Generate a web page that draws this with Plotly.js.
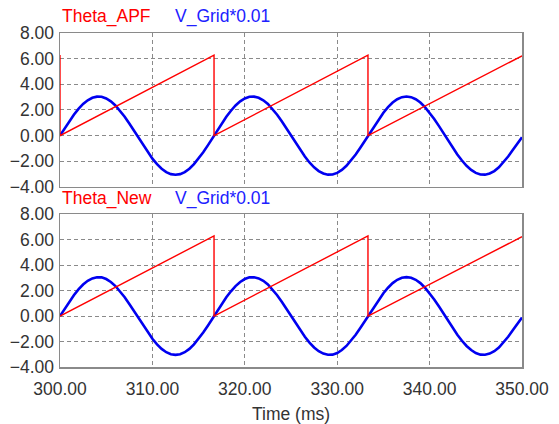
<!DOCTYPE html>
<html>
<head>
<meta charset="utf-8">
<script src="https://cdn.plot.ly/plotly-3.0.1.min.js"></script>
<style>html,body{margin:0;padding:0;background:#fff;}#chart{width:559px;height:424px;}</style>
</head>
<body>
<div id="chart"></div>
<script>
// Time axis (ms)
const tStart = 300;
const tStep = 0.5;

const vGrid = [
  0, 0.57, 1.12, 1.63, 2.09, 2.47, 2.76, 2.95, 3.04, 3.03,
  2.90, 2.67, 2.35, 1.94, 1.47, 0.94, 0.38, -0.19, -0.76, -1.30,
  -1.79, -2.22, -2.58, -2.84, -3.00, -3.05, -3.00, -2.84, -2.58, -2.22,
  -1.79, -1.30, -0.76, -0.19,
  0.38, 0.94, 1.47, 1.94, 2.35, 2.67, 2.90, 3.03, 3.04, 2.95,
  2.76, 2.47, 2.09, 1.63, 1.12, 0.57, 0, -0.57, -1.12, -1.63,
  -2.09, -2.47, -2.76, -2.95, -3.04, -3.03, -2.90, -2.67, -2.35, -1.94,
  -1.47, -0.94, -0.38,
  0.19, 0.76, 1.30, 1.79, 2.22, 2.58, 2.84, 3.00, 3.05, 3.00,
  2.84, 2.58, 2.22, 1.79, 1.30, 0.76, 0.19, -0.38, -0.94, -1.47,
  -1.94, -2.35, -2.67, -2.90, -3.03, -3.04, -2.95, -2.76, -2.47, -2.09,
  -1.63, -1.12, -0.57, -0.12
];

// Theta_APF (rad) sawtooth corner points
const thetaApfT = [300, 300, 316.67, 316.67, 333.33, 333.33, 350];
const thetaApfV = [6.28, 0, 6.28, 0, 6.28, 0, 6.22];

// Theta_New (rad) sawtooth corner points
const thetaNewT = [300, 316.67, 316.67, 333.33, 333.33, 350];
const thetaNewV = [0, 6.28, 0, 6.28, 0, 6.22];

// Labels
const xTicks = [300, 310, 320, 330, 340, 350];
const yTicks = [-4, -2, 0, 2, 4, 6, 8];
const xTitle = 'Time (ms)';
const names = ['Theta_APF', 'V_Grid*0.01', 'Theta_New', 'V_Grid*0.01'];

const RED = '#ff0000';
const BLUE = '#0000f0';
const FONT = 'Liberation Sans, Arial, sans-serif';
const FS = 17.5;

const traces = [
  {x0: tStart, dx: tStep, y: vGrid, xaxis: 'x', yaxis: 'y', mode: 'lines',
   line: {color: BLUE, width: 2.6}, name: names[1]},
  {x: thetaApfT, y: thetaApfV, xaxis: 'x', yaxis: 'y', mode: 'lines',
   line: {color: RED, width: 1.4}, name: names[0]},
  {x0: tStart, dx: tStep, y: vGrid, xaxis: 'x2', yaxis: 'y2', mode: 'lines',
   line: {color: BLUE, width: 2.6}, name: names[3]},
  {x: thetaNewT, y: thetaNewV, xaxis: 'x2', yaxis: 'y2', mode: 'lines',
   line: {color: RED, width: 1.4}, name: names[2]}
];

function xa(showLabels, anchor) {
  return {
    range: [300, 350], tickvals: xTicks, tickformat: '.2f',
    showticklabels: showLabels, anchor: anchor,
    showgrid: true, gridcolor: '#8a8a8a', griddash: '4px,3px', gridwidth: 1,
    showline: true, mirror: true, linecolor: '#8a8a8a', linewidth: 1.5,
    zeroline: false, ticks: '', ticklabelstandoff: 5,
    tickfont: {family: FONT, size: FS, color: '#333'}
  };
}
function ya(domain, anchor) {
  return {
    range: [-4, 8], tickvals: yTicks, tickformat: '.2f', domain: domain, anchor: anchor,
    showgrid: true, gridcolor: '#8a8a8a', griddash: '4px,3px', gridwidth: 1,
    showline: true, mirror: true, linecolor: '#8a8a8a', linewidth: 1.5,
    zeroline: false, ticks: '', ticklabelstandoff: 1,
    tickfont: {family: FONT, size: FS, color: '#333'}
  };
}

const xaxis2 = xa(true, 'y2');
xaxis2.title = {text: xTitle, font: {family: FONT, size: FS, color: '#333'}, standoff: 12};

const layout = {
  width: 559, height: 424,
  margin: {l: 60, r: 37, t: 33, b: 57, pad: 0},
  paper_bgcolor: '#fff', plot_bgcolor: '#fff',
  showlegend: false,
  xaxis: xa(false, 'y'),
  yaxis: ya([0.539, 1], 'x'),
  xaxis2: xaxis2,
  yaxis2: ya([0, 0.458], 'x2'),
  annotations: [
    {text: names[0], xref: 'paper', yref: 'paper', x: 0.0, y: 1.048, xanchor: 'left', yanchor: 'middle',
     showarrow: false, font: {family: FONT, size: FS, color: RED}},
    {text: names[1], xref: 'paper', yref: 'paper', x: 0.244, y: 1.048, xanchor: 'left', yanchor: 'middle',
     showarrow: false, font: {family: FONT, size: FS, color: '#2020ff'}},
    {text: names[2], xref: 'paper', yref: 'paper', x: 0.0, y: 0.503, xanchor: 'left', yanchor: 'middle',
     showarrow: false, font: {family: FONT, size: FS, color: RED}},
    {text: names[3], xref: 'paper', yref: 'paper', x: 0.244, y: 0.503, xanchor: 'left', yanchor: 'middle',
     showarrow: false, font: {family: FONT, size: FS, color: '#2020ff'}}
  ]
};

Plotly.newPlot('chart', traces, layout, {displayModeBar: false, staticPlot: true});
</script>
</body>
</html>
